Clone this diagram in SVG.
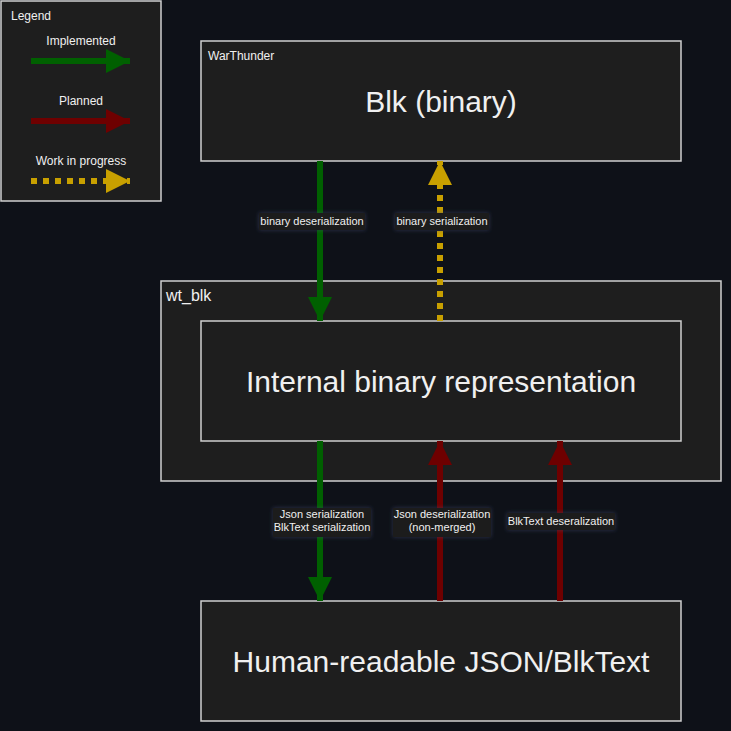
<svg xmlns="http://www.w3.org/2000/svg" width="731" height="731" viewBox="0 0 731 731">
<defs>
<style>
.box{fill:#1e1e1e;stroke:#d0d0d0;stroke-width:1.5}
.t{font-family:"Liberation Sans",Arial,sans-serif;fill:#f0f0f0}
.big{font-size:30px;text-anchor:middle}
.lbl{font-size:11px;text-anchor:middle}
.lbg{fill:#1b1b1b;filter:url(#glow)}
.g{stroke:#006000;stroke-width:6;fill:none}
.r{stroke:#6e0000;stroke-width:6;fill:none}
.y{stroke:#c8a000;stroke-width:6;fill:none;stroke-dasharray:6 6}
</style>
<filter id="glow" x="-20%" y="-40%" width="140%" height="180%">
<feDropShadow dx="0" dy="0" stdDeviation="2" flood-color="#3a4a70" flood-opacity="0.6"/>
</filter>
<marker id="mg" markerUnits="userSpaceOnUse" markerWidth="24" markerHeight="24" refX="24" refY="12" orient="auto"><path d="M0,0 L24,12 L0,24 Z" fill="#006000"/></marker>
<marker id="mr" markerUnits="userSpaceOnUse" markerWidth="24" markerHeight="24" refX="24" refY="12" orient="auto"><path d="M0,0 L24,12 L0,24 Z" fill="#6e0000"/></marker>
<marker id="my" markerUnits="userSpaceOnUse" markerWidth="24" markerHeight="24" refX="24" refY="12" orient="auto"><path d="M0,0 L24,12 L0,24 Z" fill="#c8a000"/></marker>
</defs>
<rect width="731" height="731" fill="#0e1118"/>
<g id="legend">
<rect class="box" x="1" y="1" width="160" height="200"/>
<text class="t" x="11" y="20" font-size="12">Legend</text>
<text class="t" x="81" y="45" font-size="12" text-anchor="middle">Implemented</text>
<path class="g" d="M31,61 H130" marker-end="url(#mg)"/>
<text class="t" x="81" y="105" font-size="12" text-anchor="middle">Planned</text>
<path class="r" d="M31,121 H130" marker-end="url(#mr)"/>
<text class="t" x="81" y="165" font-size="12" text-anchor="middle">Work in progress</text>
<path class="y" d="M31,181 H130" marker-end="url(#my)"/>
</g>
<g id="warthunder">
<rect class="box" x="201" y="41" width="480" height="120"/>
<text class="t" x="208" y="60" font-size="12">WarThunder</text>
<text class="t big" x="441" y="112">Blk (binary)</text>
</g>
<g id="wt_blk">
<rect class="box" x="161" y="281" width="560" height="200"/>
<text class="t" x="166" y="301" font-size="16">wt_blk</text>
</g>
<g id="internal">
<rect class="box" x="201" y="321" width="480" height="120"/>
<text class="t big" x="441" y="392">Internal binary representation</text>
</g>
<g id="human">
<rect class="box" x="201" y="601" width="480" height="120"/>
<text class="t big" x="441" y="672">Human-readable JSON/BlkText</text>
</g>
<g id="connectors">
<path class="g" d="M320,161 V321" marker-end="url(#mg)"/>
<path class="y" d="M440,321 V161" marker-end="url(#my)"/>
<path class="g" d="M320,441 V601" marker-end="url(#mg)"/>
<path class="r" d="M440,601 V441" marker-end="url(#mr)"/>
<path class="r" d="M560,601 V441" marker-end="url(#mr)"/>
<rect class="lbg" x="259" y="213" width="106" height="17"/>
<text class="t lbl" x="312" y="225">binary deserialization</text>
<rect class="lbg" x="395" y="213" width="94" height="17"/>
<text class="t lbl" x="442" y="225">binary serialization</text>
<rect class="lbg" x="273" y="508" width="98" height="29"/>
<text class="t lbl" x="322" y="518">Json serialization</text>
<text class="t lbl" x="322" y="531">BlkText serialization</text>
<rect class="lbg" x="393" y="508" width="98" height="29"/>
<text class="t lbl" x="442" y="518">Json deserialization</text>
<text class="t lbl" x="442" y="531">(non-merged)</text>
<rect class="lbg" x="507" y="513" width="108" height="17"/>
<text class="t lbl" x="561" y="525">BlkText deseralization</text>
</g>
</svg>
